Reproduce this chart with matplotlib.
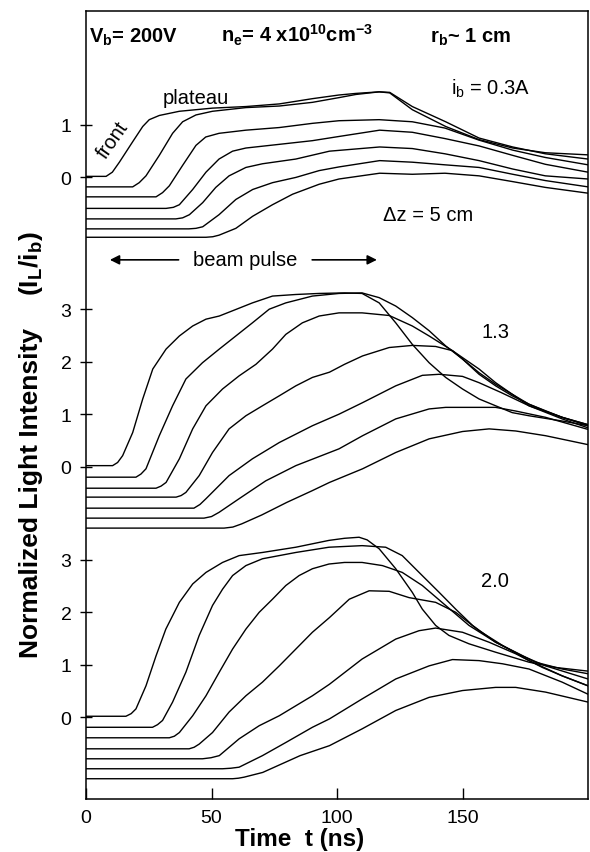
import matplotlib.pyplot as plt
import numpy as np

plt.rcParams['font.family'] = ['Liberation Sans', 'DejaVu Sans']
plt.rcParams['mathtext.fontset'] = 'custom'
plt.rcParams['mathtext.rm'] = 'Liberation Sans'
plt.rcParams['mathtext.it'] = 'Liberation Sans:italic'
plt.rcParams['mathtext.bf'] = 'Liberation Sans:bold'
plt.rcParams['mathtext.default'] = 'regular'

# Панель i_b = 0.3 A (кожна крива вже зі своїм зсувом вниз)
top_t = [
    [0, 8, 10.5, 13.3, 18.6, 22.6, 25.2, 29.2, 37.2, 50.4, 63.7, 77, 90.2, 100.8, 107.5, 116.8, 121, 130, 143.3, 156.6, 170, 183, 200],
    [0, 18.6, 21.2, 23.9, 29.2, 34.5, 38.5, 43.8, 50.4, 63.7, 77, 90.2, 100.8, 107.5, 116.8, 121, 130, 143.3, 156.6, 170, 183, 200],
    [0, 27.9, 30.5, 33.2, 38.5, 43.8, 47.7, 53, 63.7, 77, 90.2, 100.8, 116.8, 130, 143, 156.6, 170, 183, 200],
    [0, 31.9, 34.8, 37.2, 42.5, 47.8, 53, 58.4, 63.7, 77, 90.2, 100.8, 117, 130, 143, 156.6, 170, 183, 200],
    [0, 35.8, 38.5, 41.2, 46.5, 51.7, 57, 63.7, 70.3, 83.6, 97, 117, 130, 143, 156.6, 170, 183, 200],
    [0, 41, 43.8, 46.5, 53, 59.7, 66.4, 74.3, 83.6, 92.9, 100.8, 117, 130, 143, 156.6, 170, 183, 200],
    [0, 47.8, 50.5, 53, 59.7, 66.4, 74.3, 82.3, 92.9, 100.8, 117, 130, 143, 156.6, 170, 183, 200],
]
top_v = [
    [0.02, 0.02, 0.10, 0.29, 0.68, 0.97, 1.10, 1.18, 1.26, 1.32, 1.35, 1.40, 1.50, 1.57, 1.60, 1.63, 1.61, 1.29, 0.97, 0.72, 0.56, 0.47, 0.43],
    [-0.18, -0.18, -0.10, 0.03, 0.42, 0.84, 1.06, 1.19, 1.26, 1.33, 1.36, 1.43, 1.52, 1.58, 1.63, 1.62, 1.35, 1.06, 0.75, 0.58, 0.45, 0.35],
    [-0.37, -0.37, -0.29, -0.16, 0.23, 0.61, 0.77, 0.84, 0.90, 0.95, 1.03, 1.08, 1.10, 1.06, 0.94, 0.71, 0.52, 0.38, 0.24],
    [-0.59, -0.59, -0.57, -0.52, -0.23, 0.10, 0.35, 0.50, 0.56, 0.63, 0.70, 0.78, 0.90, 0.86, 0.74, 0.60, 0.42, 0.25, 0.10],
    [-0.79, -0.79, -0.77, -0.71, -0.48, -0.19, 0.03, 0.19, 0.26, 0.35, 0.50, 0.58, 0.55, 0.45, 0.32, 0.16, 0.03, -0.03],
    [-0.98, -0.98, -0.97, -0.94, -0.71, -0.42, -0.23, -0.10, 0.0, 0.13, 0.20, 0.32, 0.29, 0.24, 0.19, 0.06, -0.06, -0.18],
    [-1.14, -1.14, -1.13, -1.10, -0.97, -0.74, -0.52, -0.32, -0.13, -0.03, 0.08, 0.06, 0.08, 0.03, -0.08, -0.19, -0.30],
]

# Панель i_b = 1.3 A
mid_t = [
    [0, 10.6, 12.6, 14.6, 18.6, 22.6, 26.6, 31.9, 37.2, 42.5, 47.8, 53.1, 58.4, 66.3, 74.3, 83.6, 92.9, 103, 110, 116.8, 123.4, 130, 136.7, 143.3, 150, 156.6, 163.2, 169.8, 176.5, 189.7, 200],
    [0, 19.9, 21.9, 23.9, 29.2, 34.5, 39.8, 46.4, 53.1, 59.7, 66.3, 73, 79.6, 90.2, 100.8, 110, 116.8, 123.4, 130, 136.7, 143.3, 150, 156.6, 163.2, 169.8, 176.5, 183, 189.7, 200],
    [0, 27.9, 29.9, 31.9, 37.2, 42.5, 47.8, 54.4, 61, 67.7, 74.3, 79.6, 86.2, 92.9, 100.8, 110, 120.8, 130, 136.7, 146, 156.6, 163.2, 169.8, 176.5, 189.7, 200],
    [0, 35.9, 37.9, 39.8, 45.1, 50.4, 57, 63.7, 70.3, 77, 83.6, 90.2, 97, 103, 110.2, 120.8, 130, 139.3, 146, 156.6, 163.2, 169.8, 176.5, 189.7, 200],
    [0, 43, 45.4, 47.8, 57, 66.3, 77, 90.2, 100.8, 110.2, 123.4, 134, 140.7, 150, 156.6, 165.5, 176.5, 189.7, 200],
    [0, 47, 50, 53, 61, 71.6, 83.6, 100.8, 110.2, 123.4, 136.7, 143.3, 163.2, 171.2, 183.1, 200],
    [0, 55, 58.5, 62, 70, 80, 90, 97, 110.2, 123.4, 136.7, 150, 160.6, 171.2, 183.1, 200],
]
mid_v = [
    [0.02, 0.02, 0.08, 0.21, 0.65, 1.29, 1.86, 2.24, 2.49, 2.68, 2.81, 2.87, 2.97, 3.12, 3.25, 3.28, 3.30, 3.31, 3.30, 3.12, 2.74, 2.33, 1.98, 1.70, 1.48, 1.29, 1.16, 1.03, 0.97, 0.87, 0.78],
    [-0.20, -0.20, -0.14, -0.04, 0.59, 1.16, 1.67, 1.98, 2.24, 2.49, 2.74, 3.00, 3.12, 3.25, 3.30, 3.31, 3.22, 3.06, 2.84, 2.59, 2.30, 2.05, 1.76, 1.54, 1.35, 1.19, 1.06, 0.94, 0.80],
    [-0.41, -0.41, -0.37, -0.30, 0.15, 0.72, 1.16, 1.48, 1.73, 1.95, 2.24, 2.52, 2.74, 2.87, 2.93, 2.93, 2.88, 2.68, 2.49, 2.21, 1.79, 1.57, 1.38, 1.19, 0.94, 0.78],
    [-0.58, -0.58, -0.55, -0.49, -0.17, 0.27, 0.72, 0.97, 1.16, 1.35, 1.54, 1.70, 1.80, 1.95, 2.11, 2.27, 2.31, 2.29, 2.21, 1.86, 1.60, 1.38, 1.16, 0.91, 0.74],
    [-0.79, -0.79, -0.72, -0.61, -0.17, 0.15, 0.46, 0.78, 1.00, 1.22, 1.54, 1.74, 1.76, 1.72, 1.60, 1.41, 1.16, 0.94, 0.80],
    [-0.98, -0.98, -0.95, -0.87, -0.61, -0.27, 0.02, 0.34, 0.59, 0.91, 1.10, 1.13, 1.13, 1.06, 0.94, 0.71],
    [-1.17, -1.17, -1.15, -1.09, -0.92, -0.68, -0.46, -0.30, -0.04, 0.27, 0.53, 0.67, 0.72, 0.68, 0.59, 0.42],
]

# Панель i_b = 2.0 A
bot_t = [
    [0, 15.9, 18, 19.9, 23.9, 27.9, 31.8, 37.2, 42.5, 47.8, 54.4, 61, 70.3, 83.6, 96.8, 103, 108.8, 112, 116.8, 123.4, 130, 134, 139.3, 144.6, 152.6, 163.2, 176.5, 187, 200],
    [0, 26.5, 28.5, 30.5, 34.5, 39.8, 45.1, 50.4, 54.4, 58.4, 63.7, 70.3, 83.6, 96.8, 110, 119.4, 126, 132.7, 140.7, 147.3, 154, 163.2, 171.2, 179.1, 189.7, 200],
    [0, 33.2, 35.2, 37.2, 42.5, 47.8, 53.1, 58.4, 63.7, 69, 74.3, 79.6, 84.9, 90.2, 96.8, 103, 110, 118.1, 126, 134, 143.3, 152.6, 163.2, 173.8, 183.1, 200],
    [0, 41.1, 43.1, 45.1, 50.4, 57, 63.7, 70.3, 77, 83.6, 90.2, 97, 104.9, 112.8, 120.8, 128.7, 139.3, 147.3, 156.6, 165.9, 176.5, 189.7, 200],
    [0, 46.4, 49.8, 53.1, 61, 69, 77, 90.2, 97, 110, 123.4, 132.7, 139.3, 150, 160.6, 171.2, 181.8, 189.7, 200],
    [0, 54.4, 57.7, 61, 70.3, 79.6, 90.2, 97, 110, 123.4, 136.7, 146, 156.6, 165.9, 176.5, 189.7, 200],
    [0, 58.4, 60.7, 63, 70.4, 85.3, 97, 110, 123.4, 136.7, 150, 163.2, 171.2, 183.1, 200],
]
bot_v = [
    [0.02, 0.02, 0.07, 0.16, 0.60, 1.17, 1.68, 2.19, 2.54, 2.76, 2.95, 3.08, 3.14, 3.24, 3.37, 3.41, 3.43, 3.38, 3.21, 2.83, 2.38, 2.06, 1.75, 1.56, 1.40, 1.24, 1.05, 0.95, 0.88],
    [-0.19, -0.19, -0.14, -0.06, 0.29, 0.86, 1.56, 2.13, 2.44, 2.70, 2.89, 3.02, 3.14, 3.24, 3.27, 3.24, 3.08, 2.76, 2.38, 2.06, 1.75, 1.43, 1.24, 1.05, 0.92, 0.83],
    [-0.39, -0.39, -0.36, -0.29, 0.03, 0.41, 0.86, 1.30, 1.68, 2.00, 2.25, 2.51, 2.70, 2.83, 2.92, 2.95, 2.95, 2.89, 2.76, 2.51, 2.13, 1.75, 1.43, 1.17, 0.98, 0.73],
    [-0.60, -0.60, -0.57, -0.51, -0.29, 0.10, 0.41, 0.67, 0.98, 1.30, 1.62, 1.90, 2.25, 2.41, 2.40, 2.28, 2.19, 2.00, 1.65, 1.37, 1.08, 0.79, 0.60],
    [-0.79, -0.79, -0.77, -0.73, -0.41, -0.16, 0.03, 0.41, 0.63, 1.11, 1.49, 1.65, 1.70, 1.62, 1.43, 1.21, 0.95, 0.79, 0.60],
    [-0.98, -0.98, -0.97, -0.95, -0.73, -0.48, -0.19, -0.03, 0.35, 0.73, 0.98, 1.10, 1.08, 1.02, 0.92, 0.67, 0.44],
    [-1.17, -1.17, -1.16, -1.14, -1.05, -0.73, -0.54, -0.22, 0.13, 0.38, 0.51, 0.57, 0.57, 0.48, 0.29],
]

panels_t = [top_t, mid_t, bot_t]
panels_v = [top_v, mid_v, bot_v]
panel_ticks = [[0, 1], [0, 1, 2, 3], [0, 1, 2, 3]]
x_ticks = [0, 50, 100, 150]

# вертикальне положення нуля кожної панелі на спільній осі
offsets = [11.84, 6.33, 1.556]

fig = plt.figure(figsize=(5.9, 8.53), dpi=100)
ax = fig.add_axes([86 / 590, 53 / 853, 502 / 590, 788 / 853])

for tt, vv, off in zip(panels_t, panels_v, offsets):
    for t, v in zip(tt, vv):
        ax.plot(t, np.array(v) + off, color='black', lw=1.0)

ax.set_xlim(0, 200)
ax.set_ylim(0, 15.01)

ypos, ylab = [], []
for ticks, off in zip(panel_ticks, offsets):
    for k in ticks:
        ypos.append(off + k)
        ylab.append(str(k))
ax.set_yticks(ypos, ylab)
ax.set_xticks(x_ticks, [str(x) for x in x_ticks])
ax.tick_params(axis='y', direction='inout', length=8, width=1, labelsize=14, pad=6.5)
ax.tick_params(axis='x', direction='in', length=8, width=1, labelsize=14, pad=7)
for s in ax.spines.values():
    s.set_linewidth(1.1)

# Підписи
ax.text(1.0, 14.42, r'V$_\mathbf{b}$= 200V', fontsize=14.5, fontweight='bold', va='baseline')
ax.text(53.6, 14.42, r'n$_\mathbf{e}$= 4 x10$^\mathbf{10}$cm$^\mathbf{-3}$', fontsize=14.5, fontweight='bold', va='baseline')
ax.text(137.2, 14.42, r'r$_\mathbf{b}$~ 1 cm', fontsize=14.5, fontweight='bold', va='baseline')
ax.text(30.4, 13.37, 'plateau', fontsize=14.5, va='center')
ax.text(10.5, 12.57, 'front', fontsize=14.5, va='center', ha='center', rotation=55)
ax.text(145.4, 13.54, r'i$_b$ = 0.3A', fontsize=14.5, va='center')
ax.text(118.5, 11.14, 'Δz = 5 cm', fontsize=14.5, va='center')
ax.text(63.3, 10.27, 'beam pulse', fontsize=14.5, va='center', ha='center')
ax.text(157.5, 8.9, '1.3', fontsize=14.5, va='center')
ax.text(157.5, 4.16, '2.0', fontsize=14.5, va='center')

arrow = dict(arrowstyle='-|>', color='black', lw=1.2, mutation_scale=14)
ax.annotate('', xy=(8.4, 10.27), xytext=(38, 10.27), arrowprops=arrow)
ax.annotate('', xy=(117, 10.27), xytext=(89, 10.27), arrowprops=arrow)

fig.text(31 / 590, 1 - 493 / 853, 'Normalized Light Intensity', rotation=90,
         fontsize=19, fontweight='bold', ha='center', va='center')
fig.text(31 / 590, 1 - 264 / 853, r'(I$_\mathbf{L}$/i$_\mathbf{b}$)', rotation=90,
         fontsize=19, fontweight='bold', ha='center', va='center')
fig.text(300 / 590, 7 / 853, 'Time  t (ns)', fontsize=17.5, fontweight='bold',
         ha='center', va='baseline')

plt.savefig('out.png', dpi=100)
